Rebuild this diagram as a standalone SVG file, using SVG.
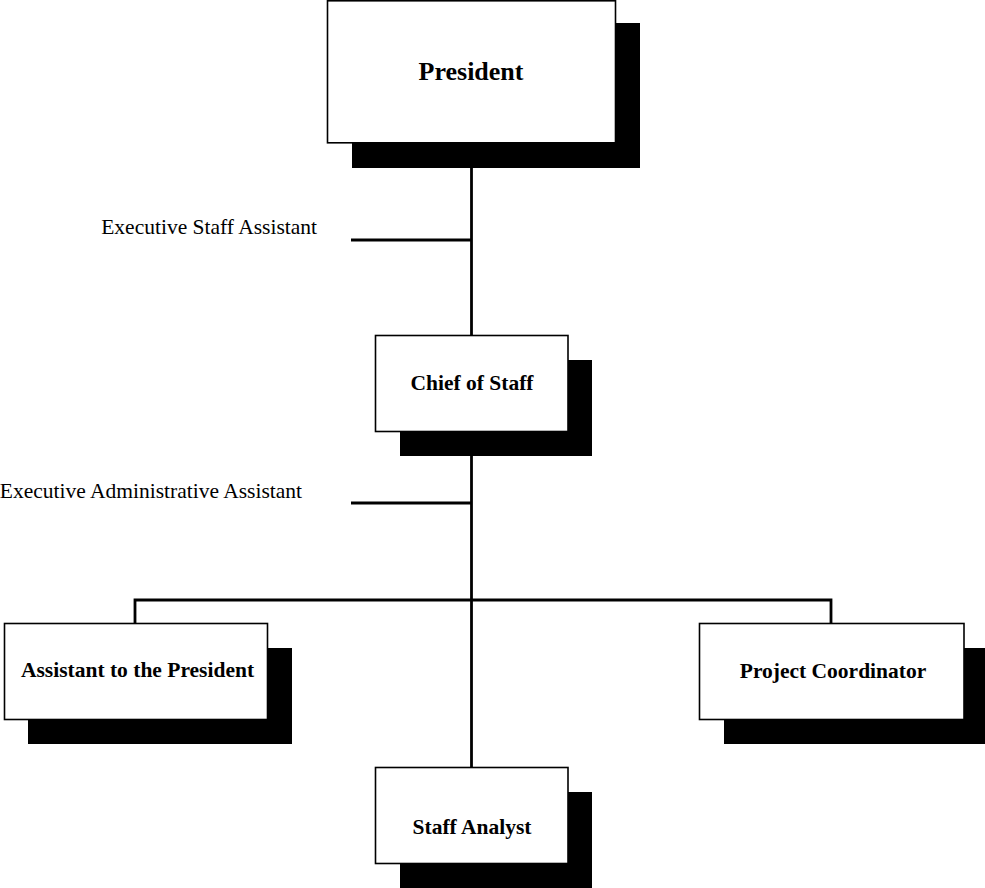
<svg xmlns="http://www.w3.org/2000/svg" width="985" height="888" viewBox="0 0 985 888">
<style>
.bg{fill:#fff}
.shadow{fill:#000}
.box{fill:#fff;stroke:#000;stroke-width:1.6}
.conn{stroke:#000;stroke-width:2.8;fill:none}
.t{font-family:"Liberation Serif","Times New Roman",serif;font-size:21.5px;fill:#000}
.b{font-weight:bold;text-anchor:middle}
.r{text-anchor:end}
</style>
<rect class="bg" x="0" y="0" width="985" height="888"/>
<g id="connectors">
<line class="conn" x1="471.5" y1="143" x2="471.5" y2="335"/>
<line class="conn" x1="351" y1="240" x2="471.5" y2="240"/>
<line class="conn" x1="471.5" y1="431" x2="471.5" y2="767"/>
<line class="conn" x1="351" y1="503" x2="471.5" y2="503"/>
<polyline class="conn" points="135,623 135,600 831,600 831,623"/>
</g>
<g id="label-exec-staff">
<text class="t r" x="317" y="234">Executive Staff Assistant</text>
</g>
<g id="label-exec-admin">
<text class="t r" x="302" y="498">Executive Administrative Assistant</text>
</g>
<g id="president">
<rect class="shadow" x="352" y="23" width="288" height="145"/>
<rect class="box" x="327.5" y="0.8" width="288" height="142"/>
<text class="t b" x="471" y="80" style="font-size:26px">President</text>
</g>
<g id="chief-of-staff">
<rect class="shadow" x="400" y="360" width="192" height="96"/>
<rect class="box" x="375.5" y="335.5" width="192.5" height="96"/>
<text class="t b" x="472" y="390">Chief of Staff</text>
</g>
<g id="assistant-to-president">
<rect class="shadow" x="28" y="648" width="264" height="96"/>
<rect class="box" x="4.5" y="623.5" width="263" height="96"/>
<text class="t b" x="137.5" y="677">Assistant to the President</text>
</g>
<g id="project-coordinator">
<rect class="shadow" x="724" y="648" width="261" height="96"/>
<rect class="box" x="699.5" y="623.5" width="264.5" height="96"/>
<text class="t b" x="833" y="678">Project Coordinator</text>
</g>
<g id="staff-analyst">
<rect class="shadow" x="400" y="792" width="192" height="96"/>
<rect class="box" x="375.5" y="767.5" width="192.5" height="96"/>
<text class="t b" x="472" y="834">Staff Analyst</text>
</g>
</svg>
